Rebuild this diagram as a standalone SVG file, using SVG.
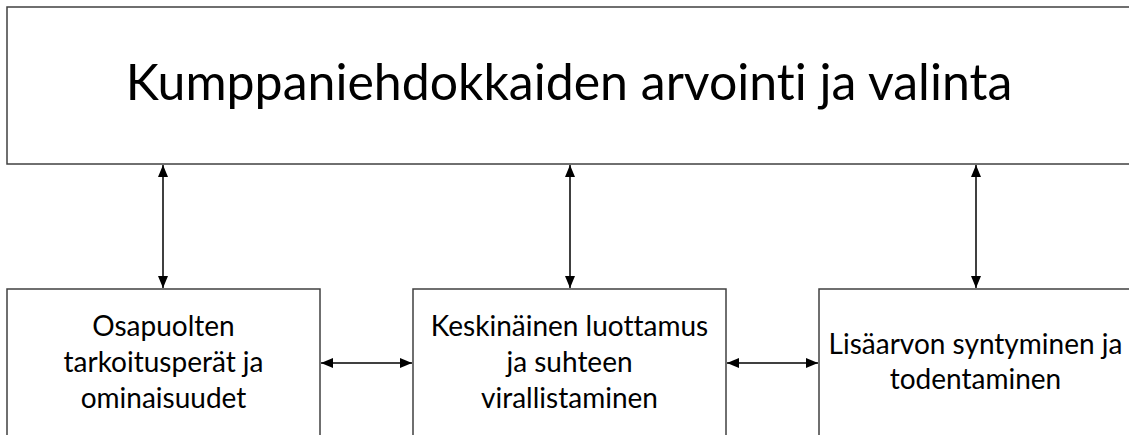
<svg xmlns="http://www.w3.org/2000/svg" width="1129" height="435" viewBox="0 0 1129 435">
<style>
.box{fill:#fff;stroke:#404040;stroke-width:1.5}
.t{font-family:Lato,"Open Sans","Liberation Sans",sans-serif;fill:#000;text-anchor:middle;font-variant-ligatures:none;font-feature-settings:"liga" 0,"clig" 0}
.title{font-size:50px}
.lbl{font-size:28px}
.c{stroke:#000;stroke-width:1.5;fill:none;marker-start:url(#a);marker-end:url(#a)}
</style>
<defs>
<marker id="a" markerUnits="userSpaceOnUse" markerWidth="12" markerHeight="12" viewBox="0 0 12 12" refX="12" refY="6" orient="auto-start-reverse">
<path d="M0,1 L12,6 L0,11 Z" fill="#000"/>
</marker>
</defs>
<g id="top">
<rect class="box" x="7" y="7" width="1130" height="157"/>
<text class="t title" x="569" y="100">Kumppaniehdokkaiden arvointi ja valinta</text>
</g>
<g id="n1">
<rect class="box" x="7" y="289" width="313" height="160"/>
<text class="t lbl" x="163.5" y="336">Osapuolten</text>
<text class="t lbl" x="163.5" y="372">tarkoitusperät ja</text>
<text class="t lbl" x="163.5" y="408">ominaisuudet</text>
</g>
<g id="n2">
<rect class="box" x="413" y="289" width="313" height="160"/>
<text class="t lbl" x="569.5" y="336">Keskinäinen luottamus</text>
<text class="t lbl" x="569.5" y="372">ja suhteen</text>
<text class="t lbl" x="569.5" y="408">virallistaminen</text>
</g>
<g id="n3">
<rect class="box" x="819" y="289" width="320" height="160"/>
<text class="t lbl" x="975.5" y="354">Lisäarvon syntyminen ja</text>
<text class="t lbl" x="975.5" y="389">todentaminen</text>
</g>
<g id="connectors">
<line class="c" x1="163" y1="165" x2="163" y2="288"/>
<line class="c" x1="570" y1="165" x2="570" y2="288"/>
<line class="c" x1="976" y1="165" x2="976" y2="288"/>
<line class="c" x1="321" y1="363" x2="412" y2="363"/>
<line class="c" x1="727" y1="363" x2="818" y2="363"/>
</g>
</svg>
